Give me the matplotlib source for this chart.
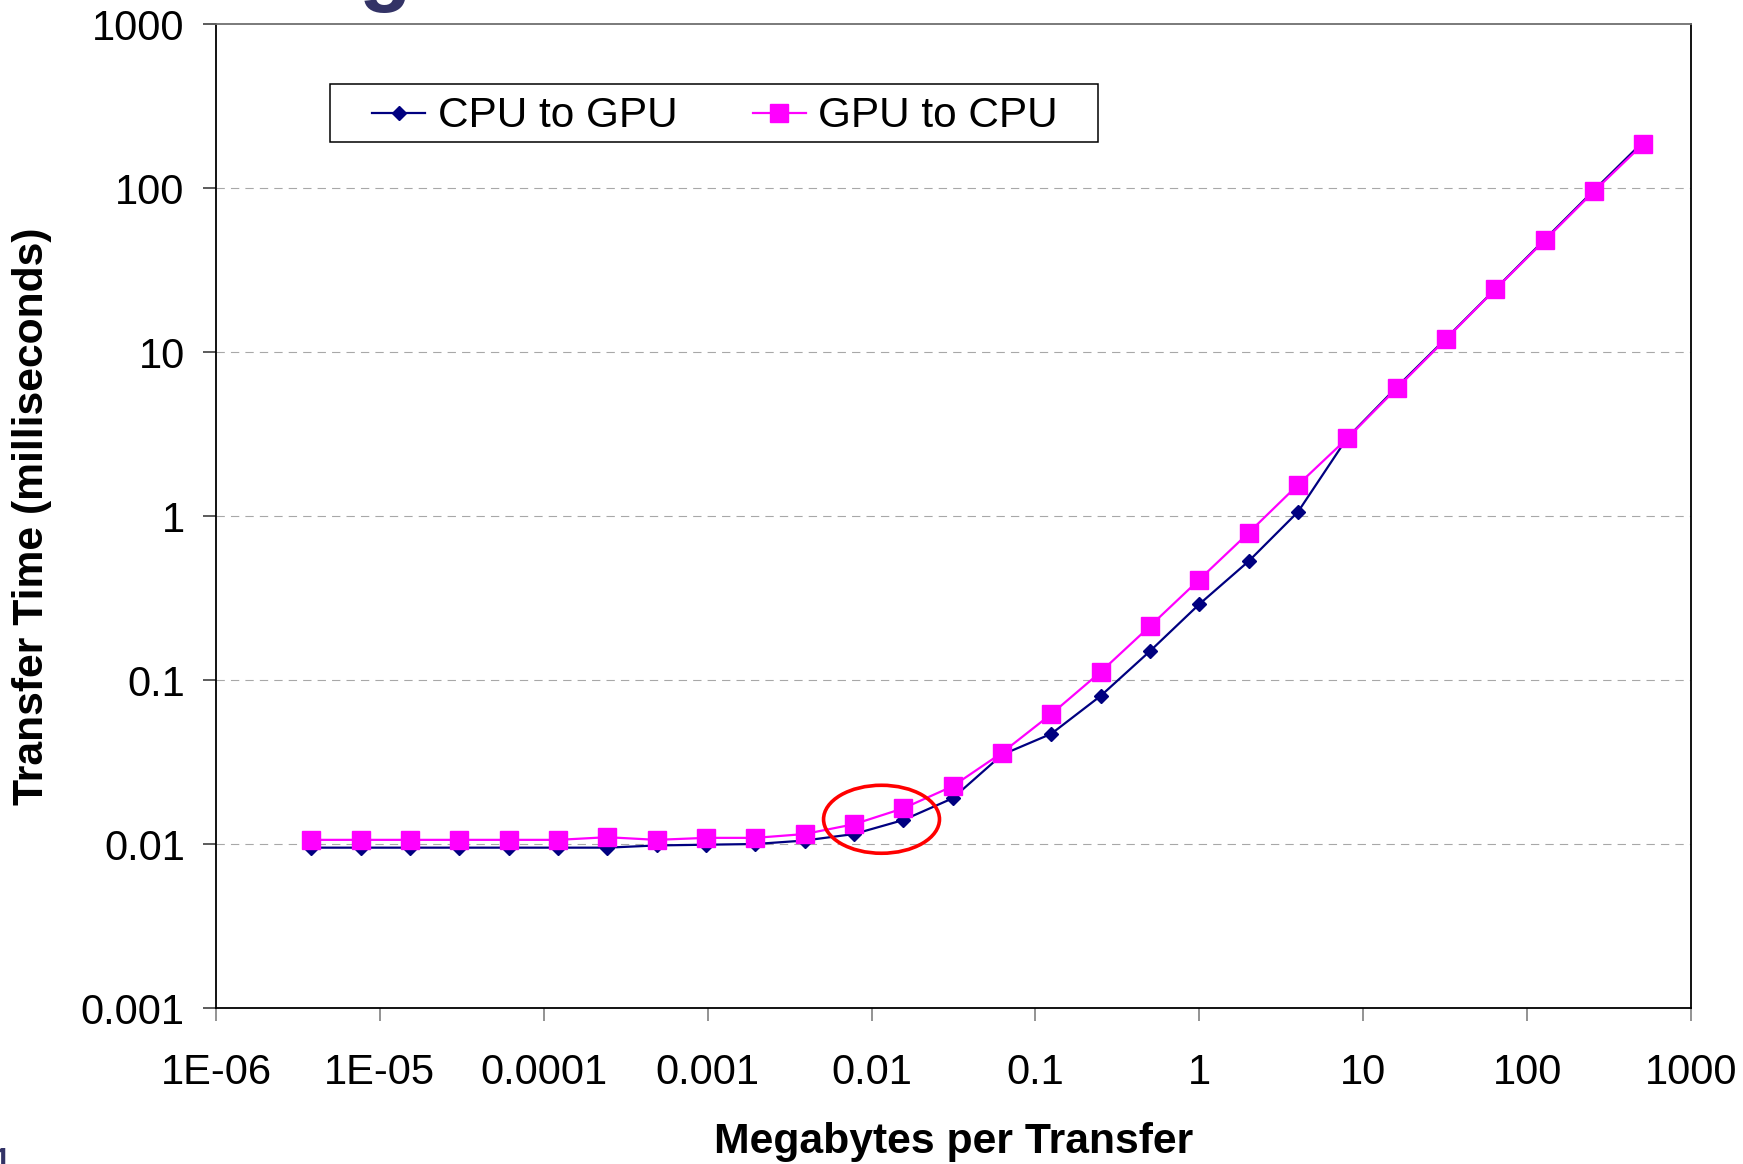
import matplotlib
matplotlib.use("Agg")
import matplotlib.pyplot as plt
from matplotlib.patches import Ellipse, Rectangle
import numpy as np

plt.rcParams["font.family"] = ["Liberation Sans", "DejaVu Sans"]

# Data: transfer size (bytes) and transfer times (ms)
transfer_bytes = [4, 8, 16, 32, 64, 128, 256, 512, 1024, 2048, 4096, 8192,
                  16384, 32768, 65536, 131072, 262144, 524288, 1048576,
                  2097152, 4194304, 8388608, 16777216, 33554432, 67108864,
                  134217728, 268435456, 536870912]
cpu_to_gpu = [0.0095, 0.0095, 0.0095, 0.0095, 0.0095, 0.0095, 0.0095,
              0.0098, 0.0099, 0.0100, 0.0105, 0.0115, 0.014, 0.019,
              0.035, 0.047, 0.080, 0.150, 0.29, 0.53, 1.06, 3.0, 6.1,
              12.1, 24.2, 48.5, 97, 192]
gpu_to_cpu = [0.0106, 0.0106, 0.0106, 0.0106, 0.0106, 0.0106, 0.0110,
              0.0106, 0.0109, 0.0109, 0.0115, 0.0132, 0.0165, 0.0225,
              0.036, 0.062, 0.112, 0.213, 0.41, 0.79, 1.55, 2.98, 6.0,
              12.0, 24.1, 47.9, 95.5, 186]

x_ticks = [1e-6, 1e-5, 1e-4, 1e-3, 1e-2, 1e-1, 1, 10, 100, 1000]
x_labels = ["1E-06", "1E-05", "0.0001", "0.001", "0.01", "0.1", "1", "10", "100", "1000"]
y_ticks = [1e-3, 1e-2, 1e-1, 1, 10, 100, 1000]
y_labels = ["0.001", "0.01", "0.1", "1", "10", "100", "1000"]

mb = np.array(transfer_bytes) / 2**20

fig = plt.figure(figsize=(17.43, 11.64), dpi=100)
ax = fig.add_axes([216/1743, 1 - 1008/1164, 1475/1743, 984/1164])

ax.plot(mb, cpu_to_gpu, color="#000080", lw=1.6, marker="D", ms=7.2,
        label="CPU to GPU", zorder=3)
ax.plot(mb, gpu_to_cpu, color="#FF00FF", lw=1.6, marker="s", ms=12.5,
        label="GPU to CPU", zorder=4)

ax.set_xscale("log"); ax.set_yscale("log")
ax.set_xlim(1e-6, 1000); ax.set_ylim(1e-3, 1000)
ax.set_xticks(x_ticks, x_labels)
ax.set_yticks(y_ticks, y_labels)
ax.minorticks_off()
ax.tick_params(axis="x", length=9.5, width=1.2, color="#808080",
               labelsize=30, pad=23, direction="out")
ax.tick_params(axis="y", length=9.5, width=1.2, color="#404040",
               labelsize=30, pad=13, direction="out")

for yv in y_ticks[1:-1]:
    ax.axhline(yv, color="#A8A8A8", lw=0.8, ls=(0, (7.5, 5.5)), zorder=1)

for s in ["left", "bottom", "right"]:
    ax.spines[s].set_color("black"); ax.spines[s].set_linewidth(1.3)
ax.spines["top"].set_color("#707070"); ax.spines["top"].set_linewidth(1.3)

ax.set_xlabel("Megabytes per Transfer", fontsize=30.7, fontweight="bold")
ax.xaxis.set_label_coords(0.5, -0.156)
ax.xaxis.label.set_va("bottom")
ax.set_ylabel("Transfer Time (milliseconds)", fontsize=30.7, fontweight="bold")
ax.yaxis.label.set_va("center")
ax.yaxis.set_label_coords(-0.1247, 0.5)

# legend with a tight manual frame
leg = ax.legend(loc="center left", bbox_to_anchor=(0.106, 0.906), ncol=2,
                frameon=False, fontsize=30.5, handlelength=1.25,
                handletextpad=0.3, columnspacing=1.77, borderpad=0,
                borderaxespad=0)
ax.add_patch(Rectangle(((330-216)/1475, (1008-142)/984), 768/1475, 58/984,
                       transform=ax.transAxes, fill=False, ec="black",
                       lw=1.1, zorder=5))

# red highlight ellipse
ax.add_patch(Ellipse((0.4512, 0.1918), 0.0786, 0.0691, transform=ax.transAxes,
                     fill=False, ec="#FF0000", lw=2.6, zorder=6))

# slide fragments cropped at the edges
fig.text(358/1743, 1 + 5/1164, "g", fontsize=62, fontweight="bold",
         color="#333366", va="baseline", ha="left")
fig.text(-7/1743, 1 - 1170/1164, "1", fontsize=22, fontweight="bold",
         color="#333366", va="baseline", ha="left")

fig.savefig("out.png", dpi=100)
